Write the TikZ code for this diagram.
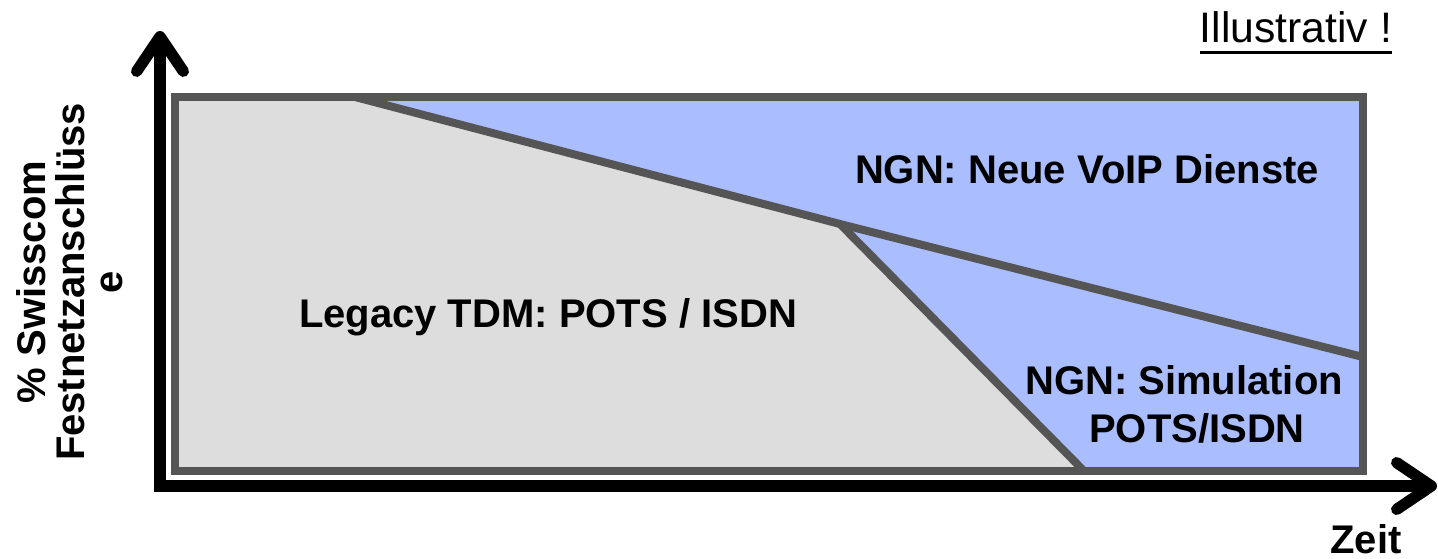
\documentclass[tikz,border=0pt]{standalone}
\usepackage{fontspec}
\setmainfont{Liberation Sans}
\usetikzlibrary{arrows.meta}

\definecolor{legacygray}{RGB}{221,221,221}
\definecolor{ngnblue}{RGB}{170,190,255}
\definecolor{edgegray}{RGB}{85,85,85}

\tikzset{
  axis/.style={line width=8.5pt, line join=miter,
    {Straight Barb[round,length=26pt,width=35pt]}-{Straight Barb[round,length=26pt,width=35pt]}},
  border/.style={draw=edgegray, line width=6pt, line join=miter},
  areatext/.style={font=\bfseries\fontsize{30}{35}\selectfont, inner sep=0pt, anchor=base},
}

\begin{document}
\begin{tikzpicture}[x=0.75pt,y=0.75pt,yscale=-1]
    \useasboundingbox (0,0) rectangle (1438,559);

    % corners of the chart
    \coordinate (tl) at (175,97);
    \coordinate (tr) at (1363,97);
    \coordinate (br) at (1363,471);
    \coordinate (bl) at (175,471);
    \coordinate (kneetop) at (355,97);
    \coordinate (knee) at (840,224);
    \coordinate (rightend) at (1363,357);
    \coordinate (kneebot) at (1084,471);

    %Shape: Rectangle (NGN area)
    \fill[ngnblue] (tl) -- (tr) -- (br) -- (bl) -- cycle;

    %Shape: Polygon (legacy area)
    \fill[legacygray] (tl) -- (kneetop) -- (knee) -- (kneebot) -- (bl) -- cycle;

    %Straight Lines
    \draw[border] (kneetop) -- (knee) -- (rightend);
    \draw[border] (knee) -- (kneebot);

    %Shape: Rectangle (frame)
    \draw[border] (tl) -- (tr) -- (br) -- (bl) -- cycle;

    %Axes
    \coordinate (ytip) at (160,31);
    \coordinate (origin) at (160,486);
    \coordinate (xtip) at (1437,486);
    \draw[axis] (ytip) -- (origin) -- (xtip);

    % Text Node
    \node[areatext] (voip) at (1087,184) {NGN: Neue VoIP Dienste};
    % Text Node
    \node[areatext] (legacy) at (548,328) {Legacy TDM: POTS / ISDN};
    % Text Node
    \node[areatext] (simone) at (1184,395) {NGN: Simulation};
    % Text Node
    \node[areatext] (simtwo) at (1197,442) {POTS/ISDN};
    % Text Node
    \node[areatext] (zeit) at (1366,553) {Zeit};
    % Text Node
    \node[font=\bfseries\fontsize{30}{29}\selectfont, align=center, rotate=90, inner sep=0pt]
      (share) at (70,282) {\% Swisscom\\Festnetzanschlüss\\e};
    % Text Node
    \node[font=\fontsize{32}{37}\selectfont, inner sep=0pt, anchor=base] (illu) at (1296,43) {Illustrativ !};
    \draw[line width=2.4pt] ([yshift=7pt]illu.base west) -- ([yshift=7pt]illu.base east);

\end{tikzpicture}
\end{document}
